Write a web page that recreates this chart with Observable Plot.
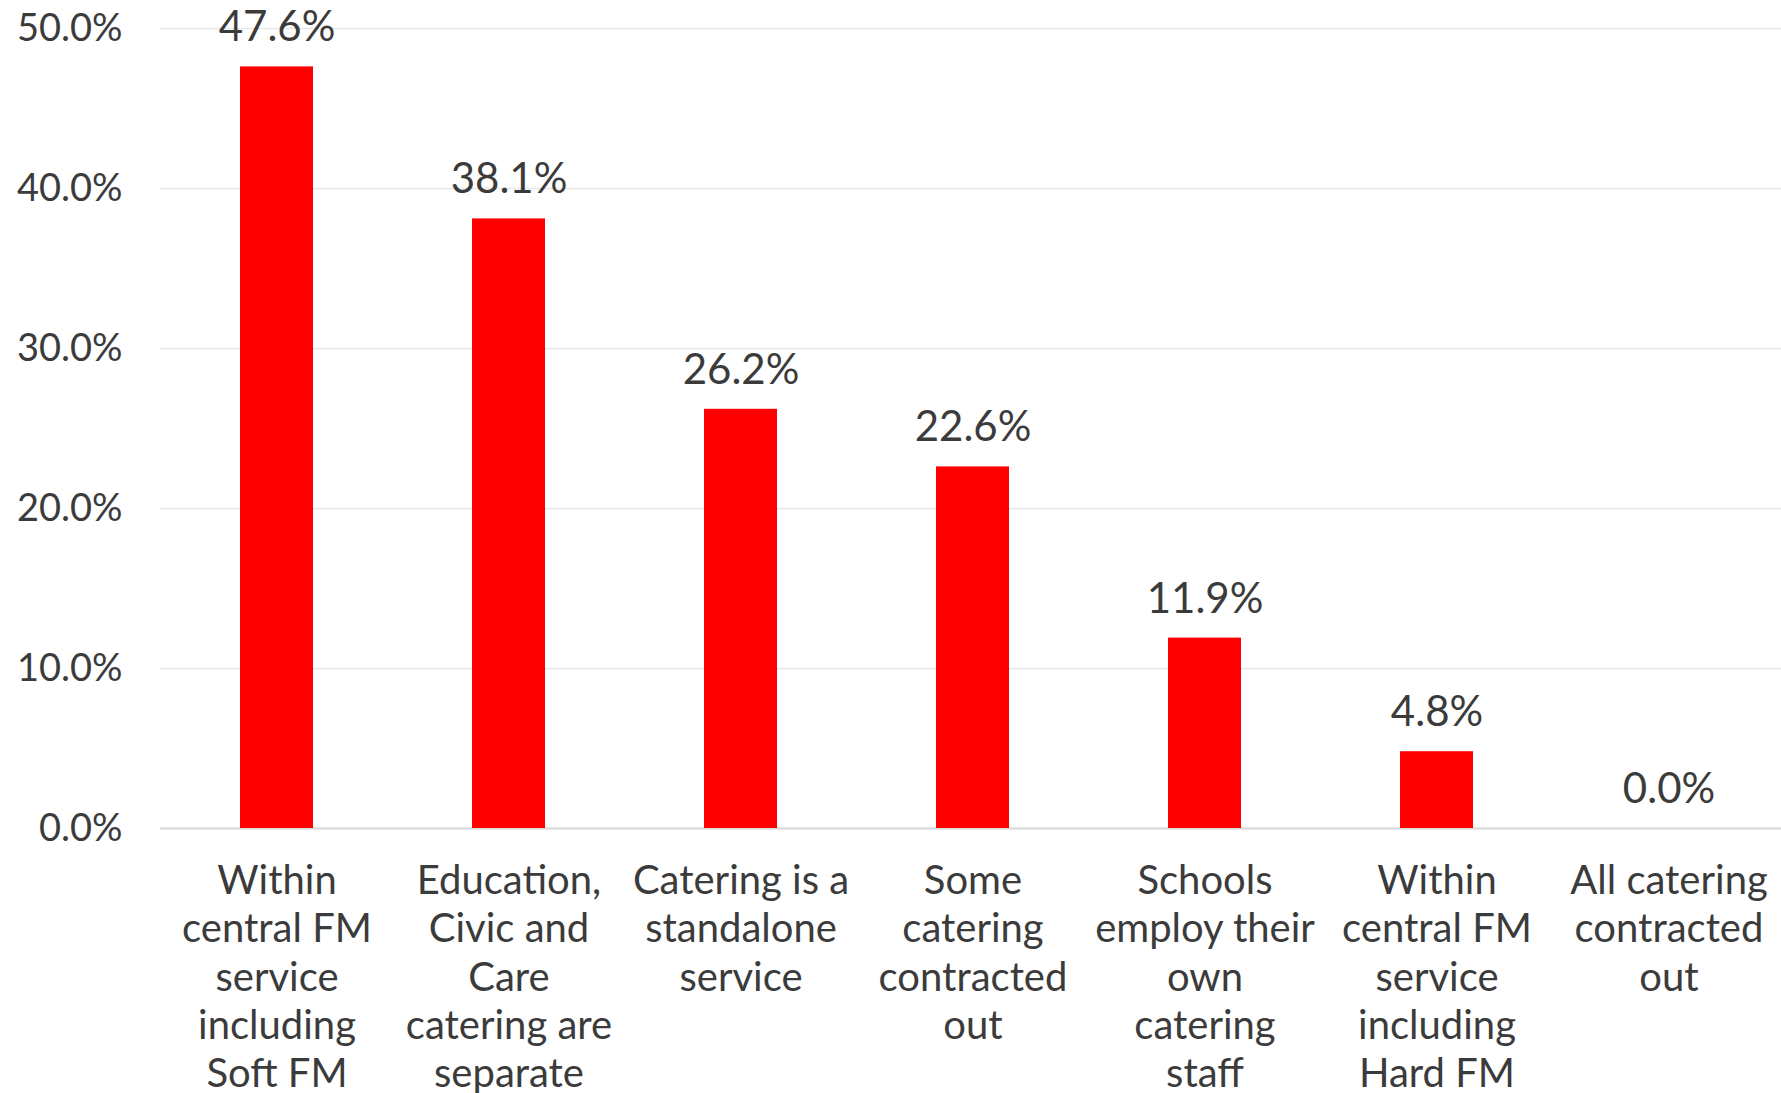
<!DOCTYPE html>
<html><head><meta charset="utf-8">
<script src="https://cdn.jsdelivr.net/npm/d3@7"></script>
<script src="https://cdn.jsdelivr.net/npm/@observablehq/plot@0.6"></script>
<style>body{margin:0;background:#fff}</style>
</head><body><div id="chart"></div>
<script>
const categories = [
  "Within central FM service including Soft FM",
  "Education, Civic and Care catering are separate",
  "Catering is a standalone service",
  "Some catering contracted out",
  "Schools employ their own catering staff",
  "Within central FM service including Hard FM",
  "All catering contracted out"
];
const values = [0.476, 0.381, 0.262, 0.226, 0.119, 0.048, 0.0];
const tickLabels = [
  "Within\ncentral FM\nservice\nincluding\nSoft FM",
  "Education,\nCivic and\nCare\ncatering are\nseparate",
  "Catering is a\nstandalone\nservice",
  "Some\ncatering\ncontracted\nout",
  "Schools\nemploy their\nown\ncatering\nstaff",
  "Within\ncentral FM\nservice\nincluding\nHard FM",
  "All catering\ncontracted\nout"
];
const yTicks = [0, 0.1, 0.2, 0.3, 0.4, 0.5];

const data = categories.map((c, i) => ({category: c, value: values[i]}));
const labelOf = new Map(categories.map((c, i) => [c, tickLabels[i]]));
const pct = d3.format(".1%");

const chart = Plot.plot({
  width: 1781, height: 1093,
  marginLeft: 160, marginRight: -3, marginTop: 28, marginBottom: 265,
  style: {fontFamily: "Lato", fontSize: "40px", color: "#3b3b3b", background: "#fff"},
  x: {domain: categories, paddingInner: 0.686, paddingOuter: 0.343, label: null},
  y: {domain: [0, 0.5], label: null},
  marks: [
    Plot.gridY(yTicks, {stroke: "#e6e6e6", strokeOpacity: 1, strokeWidth: 1.5}),
    Plot.ruleY([0], {stroke: "#d9d9d9", strokeWidth: 2}),
    Plot.barY(data, {x: "category", y: "value", fill: "#ff0000"}),
    Plot.text(data, {x: "category", y: "value", text: d => pct(d.value), dy: -39, fontSize: 42, fill: "#3b3b3b"}),
    Plot.axisY({ticks: yTicks, tickFormat: pct, tickSize: 0, tickPadding: 38, fontSize: 38, label: null}),
    Plot.axisX({tickSize: 0, tickPadding: 31, tickFormat: c => labelOf.get(c), lineHeight: 1.21, fontSize: 40, label: null})
  ]
});
document.getElementById("chart").appendChild(chart);
</script>
</body></html>
